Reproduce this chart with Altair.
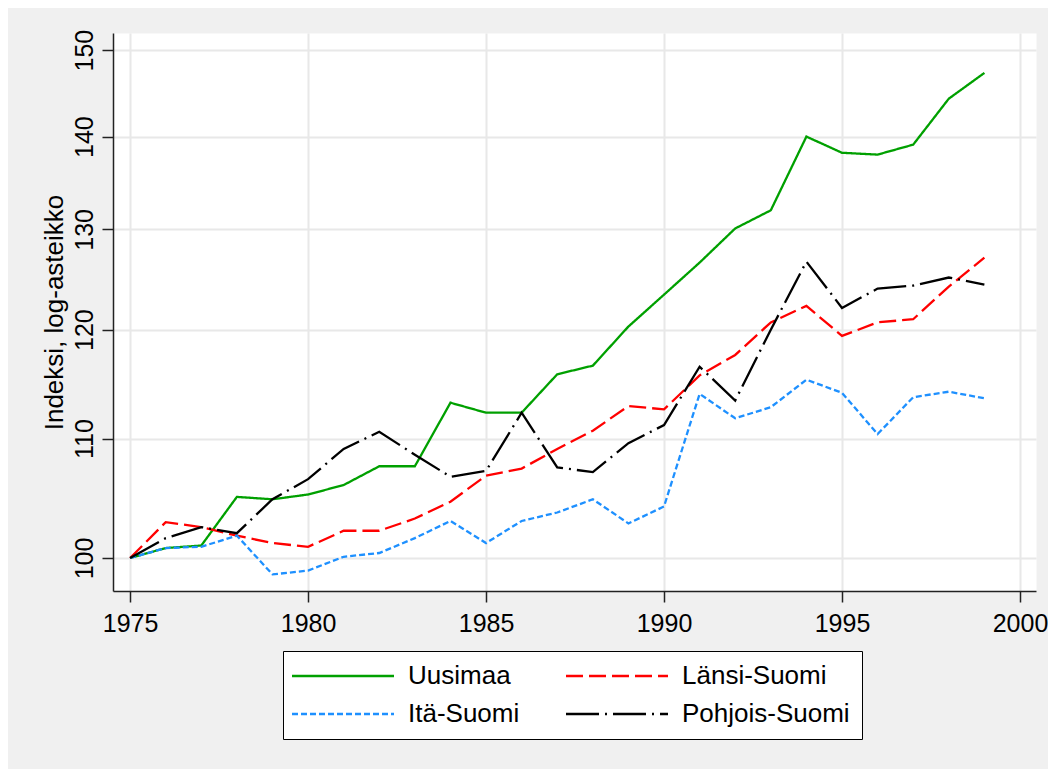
import altair as alt
import pandas as pd

years = list(range(1975, 2000))

regions = ["Uusimaa", "Länsi-Suomi", "Itä-Suomi", "Pohjois-Suomi"]

uusimaa = [100, 100.8, 101.0, 105.0, 104.8, 105.2, 106.0, 107.6, 107.6, 113.2,
           112.3, 112.3, 115.8, 116.6, 120.3, 123.4, 126.6, 130.1, 132.0, 140.0,
           138.2, 138.0, 139.1, 144.3, 147.3]
lansi = [100, 102.9, 102.5, 101.8, 101.2, 100.9, 102.2, 102.2, 103.2, 104.6,
         106.8, 107.4, 109.1, 110.7, 112.9, 112.6, 115.7, 117.6, 120.7, 122.3,
         119.4, 120.7, 121.0, 124.2, 127.1]
ita = [100, 100.8, 100.9, 101.8, 98.7, 99.0, 100.1, 100.4, 101.6, 103.0,
       101.2, 103.0, 103.7, 104.8, 102.8, 104.2, 114.0, 111.8, 112.8, 115.3,
       114.1, 110.4, 113.7, 114.2, 113.6]
pohjois = [100, 101.6, 102.5, 102.0, 104.8, 106.5, 109.1, 110.6, 108.6, 106.7,
           107.2, 112.3, 107.5, 107.1, 109.6, 111.2, 116.5, 113.4, 120.0, 126.7,
           122.1, 124.0, 124.3, 125.1, 124.4]

x_ticks = [1975, 1980, 1985, 1990, 1995, 2000]
y_ticks = [100, 110, 120, 130, 140, 150]

colors = ["#00a000", "#ff0000", "#1e90ff", "#000000"]
dashes = [[1, 0], [17, 6], [6, 3], [33, 6, 2, 6]]

series = [uusimaa, lansi, ita, pohjois]
rows = []
for name, vals in zip(regions, series):
    for yr, v in zip(years, vals):
        rows.append({"year": yr, "value": v, "region": name})
df = pd.DataFrame(rows)

FONT = "Liberation Sans"


def make_legend():
    return alt.Legend(title=None, orient="none", legendX=170, legendY=618,
                      direction="horizontal", columns=2,
                      symbolType="M-5.1,0H5.1", symbolSize=400,
                      symbolOffset=35, symbolStrokeWidth=2.5,
                      labelFontSize=26, labelOffset=52, labelLimit=400,
                      rowPadding=12, columnPadding=41, padding=12,
                      strokeColor="#000000", fillColor="#ffffff",
                      cornerRadius=0, labelColor="#000000")


chart = alt.Chart(df).mark_line(strokeWidth=2.3).encode(
    x=alt.X("year:Q",
            scale=alt.Scale(domain=[1974.52, 2000.45], nice=False, zero=False),
            axis=alt.Axis(values=x_ticks, format="d", title=None,
                          labelFontSize=25, labelBaseline="alphabetic",
                          labelPadding=29, grid=True)),
    y=alt.Y("value:Q",
            scale=alt.Scale(type="log", domain=[97.4, 152.07], nice=False, zero=False),
            axis=alt.Axis(values=y_ticks, format="d",
                          title="Indeksi, log-asteikko",
                          titleFontSize=26, titleFontWeight="normal",
                          titleAngle=270, titleBaseline="alphabetic",
                          titleAlign="center", titleX=-51, titleY=279,
                          labelFontSize=25, labelAngle=270, labelAlign="center",
                          labelBaseline="alphabetic", labelPadding=10, grid=True)),
    color=alt.Color("region:N",
                    scale=alt.Scale(domain=regions, range=colors),
                    legend=make_legend()),
    strokeDash=alt.StrokeDash("region:N",
                              scale=alt.Scale(domain=regions, range=dashes),
                              legend=make_legend()),
).properties(
    width=923,
    height=558,
    autosize=alt.AutoSizeParams(type="none"),
    padding={"left": 105, "top": 25, "right": 12, "bottom": 178},
    background="#f0f0f0",
).configure(
    font=FONT,
).configure_view(
    stroke="transparent",
    fill="#ffffff",
).configure_axis(
    domainColor="#222222",
    domainWidth=1.5,
    tickColor="#222222",
    tickWidth=1.5,
    tickSize=11,
    gridColor="#e8e8e8",
    gridWidth=2,
    labelColor="#000000",
    titleColor="#000000",
    labelFont=FONT,
    titleFont=FONT,
).configure_legend(
    labelFont=FONT,
)

chart.save("out.html", embed_options={"renderer": "svg", "actions": False})
